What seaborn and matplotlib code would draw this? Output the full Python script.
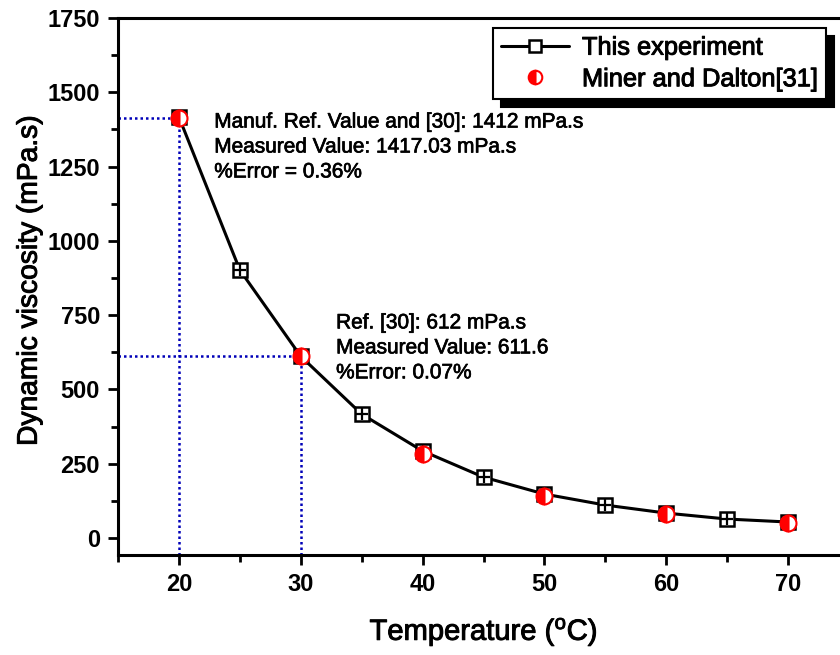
import numpy as np
import pandas as pd
import seaborn as sns
import matplotlib
matplotlib.use("Agg")
import matplotlib.pyplot as plt
import matplotlib.patheffects as pe

# ---- data ----
temp_exp = [20, 25, 30, 35, 40, 45, 50, 55, 60, 65, 70]
visc_exp = [1417.03, 902, 611.6, 417, 293, 205, 148, 111, 84, 64, 54]
temp_ref = [20, 30, 40, 50, 60, 70]
visc_ref = [1412, 612, 283, 141, 81, 50]
x_ticks = [20, 30, 40, 50, 60, 70]
y_ticks = [0, 250, 500, 750, 1000, 1250, 1500, 1750]
ref_points_x = [20, 30]
ref_points_y = [1412, 612]
note1 = ["Manuf. Ref. Value and [30]: 1412 mPa.s", "Measured Value: 1417.03 mPa.s", "%Error = 0.36%"]
note2 = ["Ref. [30]: 612 mPa.s", "Measured Value: 611.6", "%Error: 0.07%"]

df_exp = pd.DataFrame({"T": temp_exp, "V": visc_exp})
df_ref = pd.DataFrame({"T": temp_ref, "V": visc_ref})

sns.set_style("ticks")
plt.rcParams["font.family"] = ["Liberation Sans", "DejaVu Sans"]
plt.rcParams["mathtext.default"] = "regular"
for k in ["text.color", "axes.labelcolor", "xtick.color", "ytick.color",
          "xtick.labelcolor", "ytick.labelcolor", "axes.edgecolor"]:
    plt.rcParams[k] = "black"

heavy = [pe.withStroke(linewidth=0.7, foreground="black")]

fig = plt.figure(figsize=(8.4, 6.55), dpi=100)
ax = fig.add_axes([118 / 840, 1 - 555 / 655, (849 - 118) / 840, (555 - 18) / 655])

XMIN, XMAX = 15, 75
YMIN, YMAX = -57, 1750

# dotted guide lines
for xr, yr in zip(ref_points_x, ref_points_y):
    ax.plot([XMIN, xr], [yr, yr], ls=(0, (1, 1.2)), color="#0000b8", lw=1.8, zorder=1)
    ax.plot([xr, xr], [YMIN, yr], ls=(0, (1, 1.2)), color="#0000b8", lw=1.8, zorder=1)

sns.lineplot(data=df_exp, x="T", y="V", ax=ax, color="black", lw=2.2,
             marker="s", markersize=9.5, markerfacecolor="white",
             markeredgecolor="black", markeredgewidth=1.8, zorder=3,
             label="This experiment")
ax.plot(temp_exp, visc_exp, ls="none", marker="+", markersize=8,
        markeredgewidth=1.6, color="black", zorder=3.5)

sns.lineplot(data=df_ref, x="T", y="V", ax=ax, linestyle="none", marker="o",
             markersize=11.5, fillstyle="left", markerfacecolor="red",
             markerfacecoloralt="white", markeredgecolor="red",
             markeredgewidth=1.5, zorder=4, label="Miner and Dalton[31]")

ax.set_xlim(XMIN, XMAX)
ax.set_ylim(YMIN, YMAX)
ax.set_xticks(x_ticks)
ax.set_yticks(y_ticks)
ax.set_xticks([15, 25, 35, 45, 55, 65, 75], minor=True)
ax.set_yticks([125, 375, 625, 875, 1125, 1375, 1625], minor=True)
ax.tick_params(axis="both", which="major", direction="out", length=7, width=2,
               labelsize=17, pad=6)
ax.tick_params(axis="both", which="minor", direction="out", length=5, width=2)
for lab in ax.get_xticklabels() + ax.get_yticklabels():
    lab.set_fontweight("bold")
for s in ["left", "bottom", "top", "right"]:
    ax.spines[s].set_linewidth(2.2)
    ax.spines[s].set_color("black")

ax.set_xlabel("Temperature ($^{o}$C)", fontsize=21, labelpad=14, path_effects=heavy)
ax.set_ylabel("Dynamic viscosity (mPa.s)", fontsize=20.3, path_effects=heavy)
ax.yaxis.set_label_coords(-0.103, 0.512)

for i, t in enumerate(note1):
    ax.text(22.9, 1400 - i * 84, t, fontsize=15, va="center", ha="left",
            path_effects=[pe.withStroke(linewidth=0.5, foreground="black")])
for i, t in enumerate(note2):
    ax.text(32.9, 724 - i * 84, t, fontsize=15, va="center", ha="left",
            path_effects=[pe.withStroke(linewidth=0.5, foreground="black")])

leg = ax.legend(loc="upper left", bbox_to_anchor=(493 / 840, 1 - 28 / 655),
                bbox_transform=fig.transFigure, frameon=True, fancybox=False,
                borderaxespad=0,
                shadow={"color": "black", "alpha": 1, "ox": 6, "oy": -6},
                fontsize=18.3, handlelength=2.7, borderpad=0.3, labelspacing=0.3,
                handletextpad=0.5, markerscale=0.85)
leg.get_frame().set_edgecolor("black")
leg.get_frame().set_linewidth(1.5)
for t in leg.get_texts():
    t.set_path_effects(heavy)

fig.savefig("out.png", dpi=100)
